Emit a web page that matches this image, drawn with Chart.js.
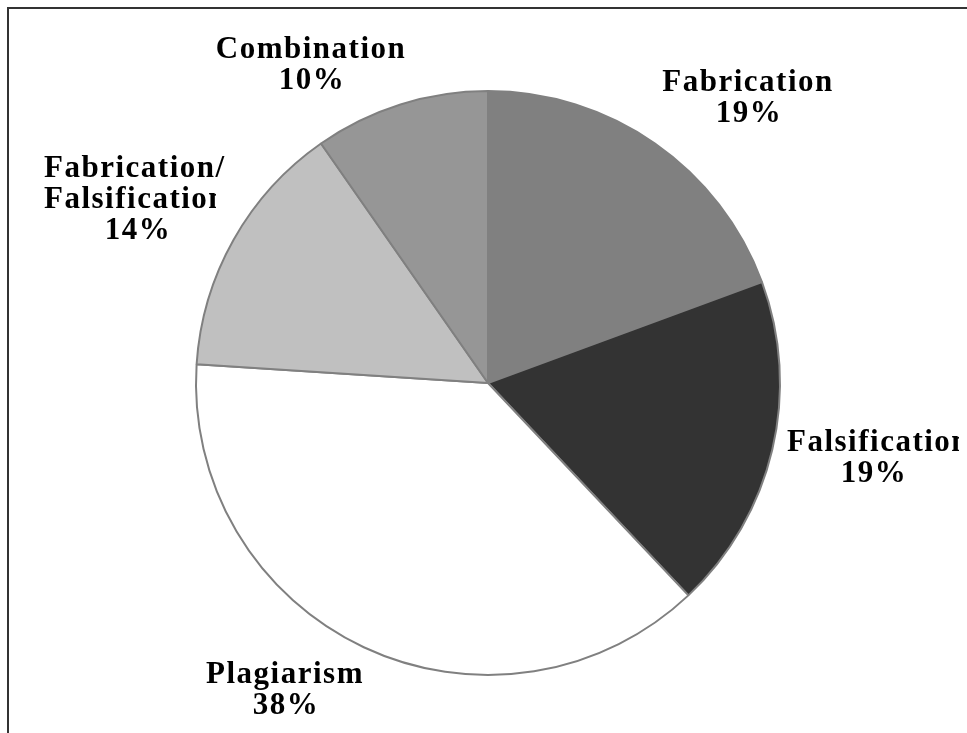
<!DOCTYPE html>
<html>
<head>
<meta charset="utf-8">
<script src="https://cdn.jsdelivr.net/npm/chart.js@4.4.0/dist/chart.umd.min.js"></script>
<style>
    body { margin: 0; background: #fff; }
    #wrap { width: 967px; height: 733px; }
</style>
</head>
<body>
<div id="wrap"><canvas id="myChart" width="967" height="733"></canvas></div>
<script>
// slice names, clockwise from 12 o'clock
const categories = ['Fabrication', 'Falsification', 'Plagiarism', 'Fabrication/\nFalsification', 'Combination'];
// share of cases (%)
const values = [19.4, 18.6, 38.1, 14.3, 9.7];
const sliceColors = ['#808080', '#333333', '#ffffff', '#c0c0c0', '#969696'];

// where each data label sits (first line baseline), excel style outside labels
// clipRight mimics the truncated "Falsificatio.." of the original label boxes
const labelSpots = [
    { x: 748, y: 91, align: 'center' },
    { x: 787, y: 451, align: 'left', pctX: 873, clipRight: 959 },
    { x: 285, y: 683, align: 'center' },
    { x: 44, y: 177, align: 'left', pctX: 137, clipRight: 216 },
    { x: 311, y: 58, align: 'center' }
];

const total = values.reduce((a, b) => a + b, 0);

const frame_plugin = {
    id: 'frame',
    beforeDraw(chart) {
        const ctx = chart.ctx;
        ctx.save();
        ctx.fillStyle = '#fff';
        ctx.fillRect(0, 0, chart.width, chart.height);
        ctx.strokeStyle = '#333';
        ctx.lineWidth = 2;
        ctx.strokeRect(8, 8, chart.width + 20, chart.height + 20);
        ctx.restore();
    }
};

const labels_plugin = {
    id: 'sliceLabels',
    afterDraw(chart) {
        const ctx = chart.ctx;
        ctx.save();
        ctx.font = 'bold 31px "Liberation Serif", "Times New Roman", serif';
        ctx.fillStyle = '#000';
        ctx.textBaseline = 'alphabetic';
        if ('letterSpacing' in ctx) ctx.letterSpacing = '1.5px';
        const lineGap = 31;

        categories.forEach((name, i) => {
            const spot = labelSpots[i];
            const lines = name.split('\n');
            const pct = Math.round(values[i] / total * 100) + '%';

            ctx.textAlign = spot.align;
            lines.forEach((line, j) => {
                ctx.save();
                // only the "Falsification" word runs past its box
                if (spot.clipRight && line.startsWith('Falsification')) {
                    ctx.beginPath();
                    ctx.rect(0, 0, spot.clipRight, chart.height);
                    ctx.clip();
                }
                ctx.fillText(line, spot.x, spot.y + j * lineGap);
                ctx.restore();
            });

            ctx.textAlign = 'center';
            const px = spot.pctX !== undefined ? spot.pctX : spot.x;
            ctx.fillText(pct, px + 1, spot.y + lines.length * lineGap);
        });
        ctx.restore();
    }
};

const data = {
    labels: categories,
    datasets: [
        {
            data: values,
            backgroundColor: sliceColors,
            borderColor: '#808080',
            borderWidth: 2,
            hoverOffset: 0
        }
    ]
};

const config = {
    type: 'pie',
    data: data,
    options: {
        responsive: false,
        animation: false,
        layout: {
            padding: { top: 90, bottom: 57, left: 195, right: 186 }
        },
        plugins: {
            legend: { display: false },
            tooltip: { enabled: false }
        }
    },
    plugins: [frame_plugin, labels_plugin]
};

const ctx = document.getElementById('myChart').getContext('2d');
const myChart = new Chart(ctx, config);
</script>
</body>
</html>
